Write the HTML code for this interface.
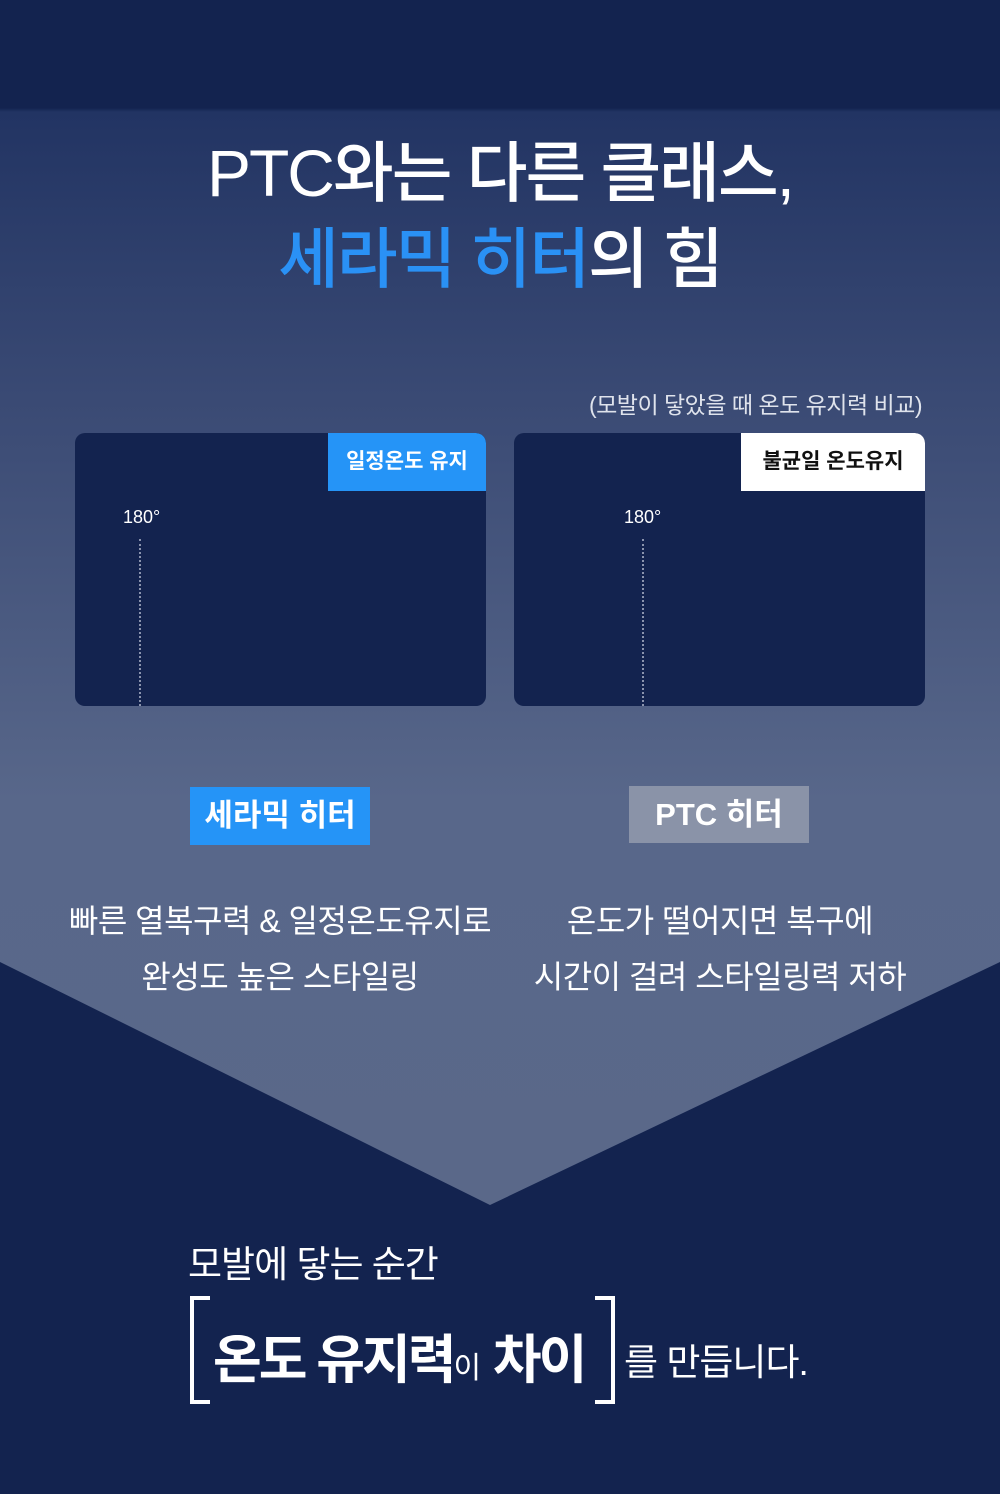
<!DOCTYPE html>
<html><head><meta charset="utf-8"><style>
*{margin:0;padding:0;box-sizing:border-box}
body{width:1000px;height:1494px;position:relative;overflow:hidden;font-family:"Liberation Sans","Noto Sans CJK KR",sans-serif;background:#13234f;color:#fff}
.bg{position:absolute;left:0;top:0;width:1000px;height:1494px;background:linear-gradient(#13234f 0,#13234f 108px,#223463 112px,#3a4a74 400px,#58678a 800px,#5a6889 1200px)}
.a{position:absolute;white-space:nowrap}
.card{position:absolute;top:433px;width:411px;height:273px;background:#13234f;border-radius:10px;overflow:hidden}
.tag{position:absolute;right:0;top:0;height:58px;font-weight:bold;font-size:21px;line-height:58px;text-align:center;border-top-right-radius:10px}
.dot{position:absolute;top:106px;bottom:0;border-left:2px dotted #8a93ad}
</style></head><body>
<div class="bg"></div>
<svg class="a" style="left:0;top:0" width="1000" height="1494"><polygon points="0,962 490,1205 1000,962 1000,1494 0,1494" fill="#13234f"/></svg>
<div class="a" style="left:0;width:1000px;top:130px;text-align:center;font-size:66px;line-height:86px;font-weight:500;letter-spacing:-2px">PTC와는 다른 클래스,<br><span style="color:#2a91f5">세라믹 히터</span>의 힘</div>
<div class="a" style="right:78px;top:386px;font-size:23px;color:#dfe3ec;letter-spacing:-0.5px">(모발이 닿았을 때 온도 유지력 비교)</div>
<div class="card" style="left:75px"><div class="tag" style="width:158px;background:#2594f7;color:#fff">일정온도 유지</div><div class="a" style="left:48px;top:74px;font-size:18px">180°</div><div class="dot" style="left:64px"></div></div>
<div class="card" style="left:514px"><div class="tag" style="width:184px;background:#fff;color:#111">불균일 온도유지</div><div class="a" style="left:110px;top:74px;font-size:18px">180°</div><div class="dot" style="left:128px"></div></div>
<div class="a" style="left:190px;top:787px;width:180px;height:58px;background:#2594f7;font-weight:bold;font-size:31px;line-height:58px;text-align:center">세라믹 히터</div>
<div class="a" style="left:629px;top:786px;width:180px;height:57px;background:#8a93a8;font-weight:bold;font-size:31px;line-height:57px;text-align:center">PTC 히터</div>
<div class="a" style="left:30px;width:500px;top:893px;text-align:center;font-size:32px;line-height:56px;letter-spacing:-0.5px">빠른 열복구력 &amp; 일정온도유지로<br>완성도 높은 스타일링</div>
<div class="a" style="left:470px;width:500px;top:893px;text-align:center;font-size:32px;line-height:56px;letter-spacing:-0.5px">온도가 떨어지면 복구에<br>시간이 걸려 스타일링력 저하</div>
<div class="a" style="left:188px;top:1234px;font-size:37px;letter-spacing:-1px">모발에 닿는 순간</div>
<div class="a" style="left:190px;top:1296px;width:20px;height:108px;border:4px solid #fff;border-right:none"></div>
<div class="a" style="left:595px;top:1296px;width:20px;height:108px;border:4px solid #fff;border-left:none"></div>
<div class="a" style="left:213px;top:1318px;font-size:53px;font-weight:bold;letter-spacing:-3px">온도 유지력<span style="font-size:30px;font-weight:normal;letter-spacing:0">이</span> 차이</div>
<div class="a" style="left:624px;top:1332px;font-size:37px;letter-spacing:-1px">를 만듭니다.</div>
</body></html>
